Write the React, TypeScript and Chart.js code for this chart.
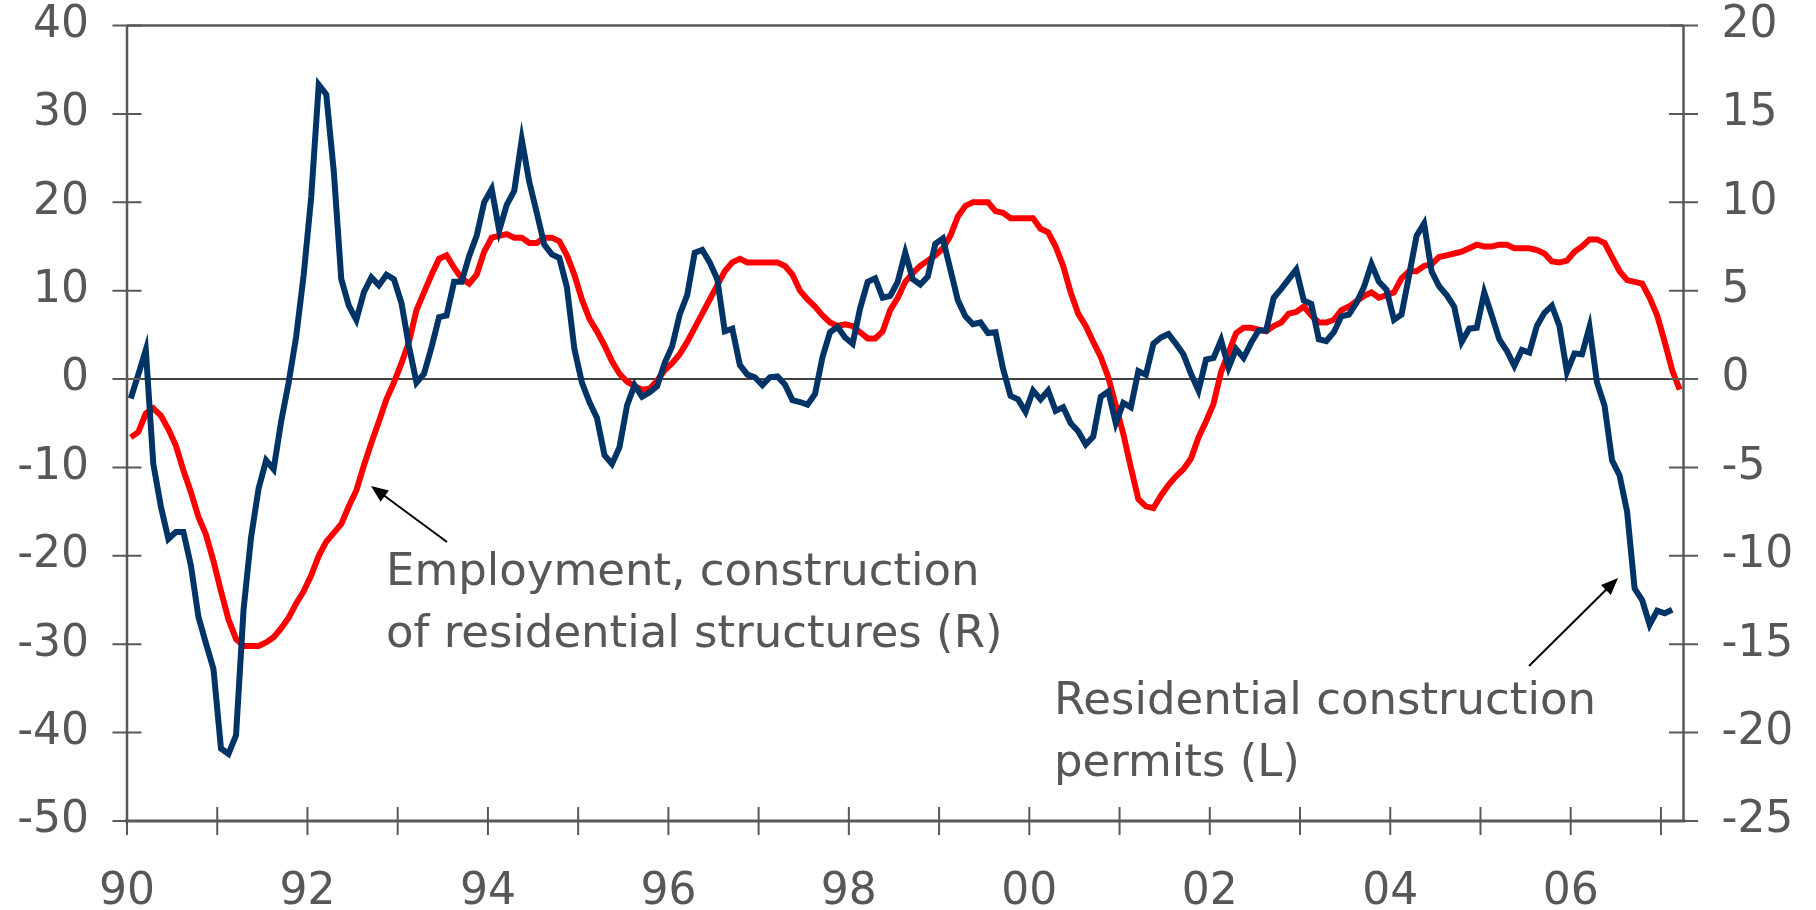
import React, { useEffect, useRef } from 'react';
import { Chart, registerables } from 'chart.js';

Chart.register(...registerables);

// Monthly data, Jan 1990 onward
const yearLabels = ['90', '92', '94', '96', '98', '00', '02', '04', '06'];
const leftTickValues = [-50, -40, -30, -20, -10, 0, 10, 20, 30, 40];
const rightTickValues = [-25, -20, -15, -10, -5, 0, 5, 10, 15, 20];

// Residential construction permits (L), Jan 1990 - Feb 2007
const permits = [
  -2.2, 0.5, 3.3, -9.6, -14.4, -18.1, -17.3, -17.3, -21.1, -26.9, -29.9, -32.8,
  -41.8, -42.4, -40.3, -26.1, -17.9, -12.4, -9.2, -10.2, -4.8, -0.4, 4.8, 11.8,
  20.6, 33.3, 32.2, 23.5, 11.3, 8.3, 6.7, 9.8, 11.5, 10.6, 11.8, 11.3,
  8.6, 3.7, -0.4, 0.6, 3.6, 7.0, 7.2, 11.0, 11.0, 13.9, 16.2, 20.0,
  21.5, 16.8, 19.7, 21.3, 27.1, 22.3, 18.8, 15.2, 14.1, 13.7, 10.4, 3.4,
  -0.4, -2.6, -4.4, -8.6, -9.6, -7.7, -3.0, -0.7, -2.0, -1.5, -0.8, 1.8,
  3.7, 7.3, 9.5, 14.3, 14.6, 13.2, 11.3, 5.4, 5.7, 1.6, 0.5, 0.2,
  -0.7, 0.2, 0.3, -0.6, -2.4, -2.6, -2.9, -1.7, 2.5, 5.3, 5.9, 4.7,
  4.0, 8.0, 11.0, 11.4, 9.2, 9.4, 11.0, 14.3, 11.3, 10.7, 11.6, 15.3,
  15.9, 12.4, 8.9, 7.1, 6.2, 6.4, 5.2, 5.3, 1.2, -1.9, -2.3, -3.7,
  -1.3, -2.3, -1.3, -3.6, -3.2, -5.0, -5.9, -7.4, -6.5, -2.0, -1.4, -5.0,
  -2.7, -3.2, 0.9, 0.5, 4.0, 4.7, 5.1, 4.0, 2.8, 0.6, -1.3, 2.2,
  2.4, 4.4, 1.3, 3.4, 2.4, 4.1, 5.5, 5.5, 9.2, 10.2, 11.3, 12.4,
  8.9, 8.5, 4.5, 4.3, 5.3, 7.1, 7.3, 8.6, 10.4, 13.0, 11.0, 10.1,
  6.7, 7.3, 11.7, 16.2, 17.6, 12.2, 10.5, 9.5, 8.2, 4.2, 5.7, 5.8,
  9.8, 7.2, 4.5, 3.2, 1.5, 3.3, 3.0, 6.0, 7.5, 8.3, 6.0, 0.8,
  2.9, 2.8, 5.9, -0.4, -3.0, -9.2, -10.9, -15.0, -23.7, -25.0, -27.8, -26.2,
  -26.5, -26.1,
];

// Employment, construction of residential structures (R), Jan 1990 - Mar 2007
const employment = [
  -3.3, -3.0, -1.95, -1.66, -2.07, -2.83, -3.76, -5.16, -6.4, -7.8, -8.8, -10.3,
  -12.0, -13.6, -14.7, -15.1, -15.1, -15.1, -14.9, -14.6, -14.1, -13.5, -12.7, -12.0,
  -11.1, -10.0, -9.2, -8.7, -8.2, -7.2, -6.3, -4.9, -3.6, -2.4, -1.15, -0.2,
  0.9, 2.1, 3.9, 4.9, 5.9, 6.8, 7.0, 6.3, 5.7, 5.4, 5.9, 7.2,
  8.0, 8.1, 8.2, 8.0, 8.0, 7.7, 7.7, 8.0, 8.0, 7.8, 7.0, 5.9,
  4.5, 3.4, 2.7, 1.9, 1.0, 0.3, -0.15, -0.4, -0.6, -0.55, -0.1, 0.5,
  0.9, 1.4, 2.1, 2.9, 3.7, 4.5, 5.3, 6.1, 6.6, 6.8, 6.6, 6.6,
  6.6, 6.6, 6.6, 6.4, 5.9, 5.0, 4.5, 4.1, 3.6, 3.2, 3.0, 3.1,
  3.0, 2.65, 2.3, 2.3, 2.7, 3.9, 4.6, 5.5, 6.0, 6.4, 6.7, 7.0,
  7.4, 8.1, 9.2, 9.8, 10.0, 10.0, 10.0, 9.5, 9.4, 9.1, 9.1, 9.1,
  9.1, 8.5, 8.3, 7.5, 6.4, 4.9, 3.7, 3.0, 2.1, 1.25, 0.1, -1.5,
  -3.1, -5.0, -6.8, -7.2, -7.3, -6.6, -6.0, -5.5, -5.1, -4.5, -3.3, -2.4,
  -1.4, 0.4, 1.5, 2.6, 2.9, 2.9, 2.8, 2.7, 3.0, 3.2, 3.7, 3.8,
  4.1, 3.6, 3.2, 3.2, 3.35, 3.9, 4.1, 4.4, 4.7, 4.9, 4.6, 4.75,
  4.9, 5.7, 6.1, 6.1, 6.4, 6.5, 6.9, 7.0, 7.1, 7.2, 7.4, 7.6,
  7.5, 7.5, 7.6, 7.6, 7.4, 7.4, 7.4, 7.3, 7.1, 6.65, 6.6, 6.7,
  7.2, 7.5, 7.9, 7.9, 7.7, 6.9, 6.1, 5.6, 5.5, 5.4, 4.6, 3.6,
  2.1, 0.5, -0.6,
];

const MONTHS_ON_AXIS = 207;

const employmentLines = ['Employment, construction', 'of residential structures (R)'];
const permitsLines = ['Residential construction', 'permits (L)'];

const W = 1816;
const H = 910;
const FONT_FAMILY = '"DejaVu Sans", Verdana, sans-serif';
const AXIS_GREY = '#595959';
const TEXT_GREY = '#575757';
const BLUE = '#003366';
const RED = '#ff0000';

function drawArrow(ctx: CanvasRenderingContext2D, x1: number, y1: number, x2: number, y2: number) {
  const ang = Math.atan2(y2 - y1, x2 - x1);
  const headLen = 17;
  const headW = 7;
  ctx.save();
  ctx.strokeStyle = '#000';
  ctx.fillStyle = '#000';
  ctx.lineWidth = 2;
  ctx.beginPath();
  ctx.moveTo(x1, y1);
  ctx.lineTo(x2 - Math.cos(ang) * headLen * 0.8, y2 - Math.sin(ang) * headLen * 0.8);
  ctx.stroke();
  ctx.beginPath();
  ctx.moveTo(x2, y2);
  ctx.lineTo(
    x2 - Math.cos(ang) * headLen - Math.sin(ang) * headW,
    y2 - Math.sin(ang) * headLen + Math.cos(ang) * headW
  );
  ctx.lineTo(
    x2 - Math.cos(ang) * headLen + Math.sin(ang) * headW,
    y2 - Math.sin(ang) * headLen - Math.cos(ang) * headW
  );
  ctx.closePath();
  ctx.fill();
  ctx.restore();
}

const framePlugin = {
  id: 'frame',
  beforeDatasetsDraw(chart: any) {
    const { ctx, chartArea: a, scales } = chart;
    const y0 = scales.yL.getPixelForValue(0);
    ctx.save();
    ctx.strokeStyle = '#000';
    ctx.lineWidth = 1.5;
    ctx.beginPath();
    ctx.moveTo(a.left - 2, y0);
    ctx.lineTo(a.right, y0);
    ctx.stroke();
    ctx.restore();
  },
  afterDraw(chart: any) {
    const { ctx, chartArea: a, scales } = chart;
    ctx.save();
    ctx.strokeStyle = AXIS_GREY;
    // frame
    ctx.lineWidth = 2.5;
    ctx.beginPath();
    ctx.moveTo(a.left, a.top);
    ctx.lineTo(a.right, a.top);
    ctx.moveTo(a.left, a.top);
    ctx.lineTo(a.left, a.bottom);
    ctx.moveTo(a.right, a.top);
    ctx.lineTo(a.right, a.bottom);
    ctx.stroke();
    ctx.lineWidth = 3;
    ctx.beginPath();
    ctx.moveTo(a.left - 2, a.bottom);
    ctx.lineTo(a.right + 2, a.bottom);
    ctx.stroke();
    // ticks
    ctx.lineWidth = 2;
    ctx.beginPath();
    leftTickValues.forEach((v) => {
      const y = scales.yL.getPixelForValue(v);
      ctx.moveTo(a.left - 14.5, y);
      ctx.lineTo(a.left + 14.5, y);
    });
    rightTickValues.forEach((v) => {
      const y = scales.yR.getPixelForValue(v);
      ctx.moveTo(a.right - 14.5, y);
      ctx.lineTo(a.right + 14.5, y);
    });
    scales.x.ticks.forEach((t: any) => {
      const x = scales.x.getPixelForValue(t.value);
      ctx.moveTo(x, a.bottom - 14);
      ctx.lineTo(x, a.bottom + 14);
    });
    ctx.stroke();
    ctx.restore();

    // annotations
    ctx.save();
    ctx.font = `45px ${FONT_FAMILY}`;
    ctx.fillStyle = TEXT_GREY;
    ctx.textAlign = 'left';
    ctx.textBaseline = 'alphabetic';
    employmentLines.forEach((s, i) => ctx.fillText(s, 386, 585 + i * 62));
    permitsLines.forEach((s, i) => ctx.fillText(s, 1054, 714 + i * 62));
    ctx.restore();
    drawArrow(ctx, 447, 542, 371, 486);
    drawArrow(ctx, 1529, 666, 1618, 578);
  },
};

const noPad = (s: any) => {
  s.paddingTop = 0;
  s.paddingBottom = 0;
  s.paddingLeft = 0;
  s.paddingRight = 0;
};

export default function App() {
  const canvasRef = useRef<HTMLCanvasElement | null>(null);

  useEffect(() => {
    const canvas = canvasRef.current;
    if (!canvas) return;
    const chart = new Chart(canvas, {
      type: 'line',
      data: {
        datasets: [
          {
            label: 'Residential construction permits (L)',
            data: permits.map((v, i) => ({ x: i + 0.5, y: v })),
            yAxisID: 'yL',
            borderColor: BLUE,
            borderWidth: 6,
            pointRadius: 0,
            tension: 0,
            fill: false,
          },
          {
            label: 'Employment, construction of residential structures (R)',
            data: employment.map((v, i) => ({ x: i + 0.5, y: v })),
            yAxisID: 'yR',
            borderColor: RED,
            borderWidth: 6,
            pointRadius: 0,
            tension: 0,
            fill: false,
          },
        ],
      },
      options: {
        responsive: false,
        animation: false,
        devicePixelRatio: 1,
        layout: { padding: { top: 25.5, left: 0, right: 0, bottom: 0 } },
        plugins: {
          legend: { display: false },
          tooltip: { enabled: false },
        },
        scales: {
          x: {
            type: 'linear',
            min: 0,
            max: MONTHS_ON_AXIS,
            grid: { display: false, drawTicks: false },
            border: { display: false },
            afterFit: (s: any) => {
              s.height = H - 821;
              noPad(s);
            },
            ticks: {
              stepSize: 12,
              includeBounds: false,
              maxTicksLimit: 40,
              autoSkip: false,
              maxRotation: 0,
              padding: 45,
              color: TEXT_GREY,
              font: { family: FONT_FAMILY, size: 44 },
              callback: (v: any) => {
                const n = Number(v);
                return n % 24 === 0 ? yearLabels[n / 24] ?? '' : '';
              },
            },
          },
          yL: {
            type: 'linear',
            position: 'left',
            min: -50,
            max: 40,
            grid: { display: false, drawTicks: false },
            border: { display: false },
            afterFit: (s: any) => {
              s.width = 127;
              noPad(s);
            },
            ticks: {
              stepSize: 10,
              padding: 38,
              color: TEXT_GREY,
              font: { family: FONT_FAMILY, size: 44 },
            },
          },
          yR: {
            type: 'linear',
            position: 'right',
            min: -25,
            max: 20,
            grid: { display: false, drawTicks: false },
            border: { display: false },
            afterFit: (s: any) => {
              s.width = W - 1683.5;
              noPad(s);
            },
            ticks: {
              stepSize: 5,
              padding: 38,
              color: TEXT_GREY,
              font: { family: FONT_FAMILY, size: 44 },
            },
          },
        },
      },
      plugins: [framePlugin],
    } as any);
    return () => chart.destroy();
  }, []);

  return (
    <div style={{ position: 'absolute', left: 0, top: 0, width: W, height: H, background: '#fff' }}>
      <canvas ref={canvasRef} width={W} height={H} style={{ display: 'block' }} />
    </div>
  );
}
